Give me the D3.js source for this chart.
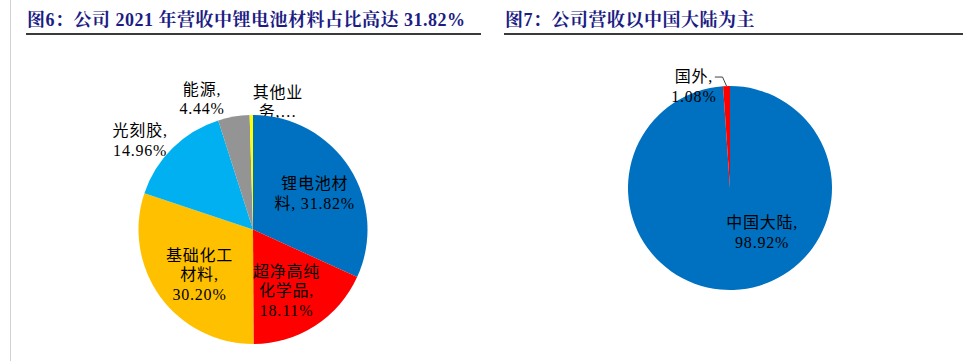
<!DOCTYPE html>
<html>
<head>
<meta charset="utf-8">
<script src="https://cdn.jsdelivr.net/npm/d3@7"></script>
<style>
  body { margin: 0; background: #fff; }
  svg { display: block; }
</style>
</head>
<body>
<svg id="chart"></svg>
<script>
// data for figure 6 - revenue split by business (2021)
const bizNames = ["锂电池材料", "超净高纯化学品", "基础化工材料", "光刻胶", "能源", "其他业务"];
const bizShares = [31.82, 18.11, 30.20, 14.96, 4.44, 0.47];
// how each label is broken into lines (same order as bizNames)
const bizLabels = [
  ["锂电池材", "料, 31.82%"],
  ["超净高纯", "化学品,", "18.11%"],
  ["基础化工", "材料,", "30.20%"],
  ["光刻胶,", "14.96%"],
  ["能源,", "4.44%"],
  ["其他业", "务,…"]
];
const bizColors = ["#0070C0", "#FF0000", "#FFC000", "#00B0F0", "#949494", "#FFFF00"];

// data for figure 7 - revenue split by region
const regionNames = ["中国大陆", "国外"];
const regionShares = [98.92, 1.08];
const regionLabels = [["中国大陆,", "98.92%"], ["国外,", "1.08%"]];
const regionColors = ["#0070C0", "#FF0000"];

const titles = ["图6：公司 2021 年营收中锂电池材料占比高达 31.82%", "图7：公司营收以中国大陆为主"];

const W = 963, H = 361;
const labelFont = "'Liberation Serif', 'Noto Sans CJK SC', serif";

let svg = d3.select("#chart").attr("width", W).attr("height", H);

// thin grey page line on the left
svg.append("line")
  .attr("x1", 10.5).attr("x2", 10.5)
  .attr("y1", 0).attr("y2", H)
  .attr("stroke", "#d2d2d2").attr("stroke-width", 1);

// titles + underline
const titleBoxes = [{x: 27, x1: 26, x2: 481}, {x: 505, x1: 504, x2: 963}];
titleBoxes.forEach((b, i) => {
  svg.append("text")
    .attr("x", b.x).attr("y", 26)
    .attr("font-family", "'Liberation Serif', 'Noto Serif CJK SC', 'Noto Sans CJK SC', serif")
    .attr("font-weight", "bold")
    .attr("font-size", "18px")
    .attr("letter-spacing", "0.5px")
    .attr("fill", "#1c1c84")
    .text(titles[i]);
  svg.append("line")
    .attr("x1", b.x1).attr("x2", b.x2)
    .attr("y1", 34).attr("y2", 34)
    .attr("stroke", "#3a3a3a").attr("stroke-width", 2.2);
});

// draws one pie, slices go clockwise from 12 o'clock
function drawPie(cfg) {
  let data = cfg.names.map((n, i) => ({name: n, value: cfg.values[i], lines: cfg.labels[i], color: cfg.colors[i]}));
  let pie = d3.pie().sort(null).value(d => d.value);
  let arcs = pie(data);
  let arc = d3.arc().innerRadius(0).outerRadius(cfg.r);
  let labelArc = d3.arc().innerRadius(cfg.r * 0.62).outerRadius(cfg.r * 0.62);
  let edgeArc = d3.arc().innerRadius(cfg.r).outerRadius(cfg.r);

  let g = svg.append("g").attr("transform", `translate(${cfg.cx},${cfg.cy})`);
  let under = g.append("g"); // labels that sit behind the pie
  let slices = g.append("g");
  let over = g.append("g");

  slices.selectAll("path")
    .data(arcs)
    .enter()
    .append("path")
    .attr("d", arc)
    .attr("fill", d => d.data.color);

  arcs.forEach(a => {
    let c = labelArc.centroid(a);
    let nudge = cfg.nudge[a.data.name] || [0, 0];
    let x = c[0] + nudge[0], y = c[1] + nudge[1];
    let n = a.data.lines.length;
    let host = (cfg.behind || []).includes(a.data.name) ? under : over;
    let t = host.append("text")
      .attr("text-anchor", "middle")
      .attr("font-family", labelFont)
      .attr("font-size", "16px")
      .attr("letter-spacing", "0.8px")
      .attr("fill", "#000");
    a.data.lines.forEach((line, i) => {
      t.append("tspan")
        .attr("x", x)
        .attr("y", y + (i - (n - 1) / 2) * cfg.lh + 5)
        .text(line);
    });
    // leader line for the tiny slice
    if ((cfg.leader || []).includes(a.data.name)) {
      let e = edgeArc.centroid(a);
      let firstY = y - (n - 1) / 2 * cfg.lh;
      let startX = x + 21;
      over.append("polyline")
        .attr("points", `${startX},${firstY} ${e[0] - 4},${firstY} ${e[0]},${e[1]}`)
        .attr("fill", "none")
        .attr("stroke", "#404040")
        .attr("stroke-width", 1);
    }
  });
}

drawPie({
  names: bizNames, values: bizShares, labels: bizLabels, colors: bizColors,
  cx: 253, cy: 229.5, r: 114.5, lh: 19.5,
  nudge: {
    "锂电池材料": [2, 3],
    "超净高纯化学品": [-5, 2],
    "基础化工材料": [4, 4],
    "光刻胶": [-63, -38],
    "能源": [-39, -60],
    "其他业务": [26, -56]
  },
  behind: ["其他业务"]
});

drawPie({
  names: regionNames, values: regionShares, labels: regionLabels, colors: regionColors,
  cx: 730, cy: 188, r: 102, lh: 19.5,
  nudge: {
    "中国大陆": [30, -18],
    "国外": [-34, -38]
  },
  leader: ["国外"]
});
</script>
</body>
</html>
